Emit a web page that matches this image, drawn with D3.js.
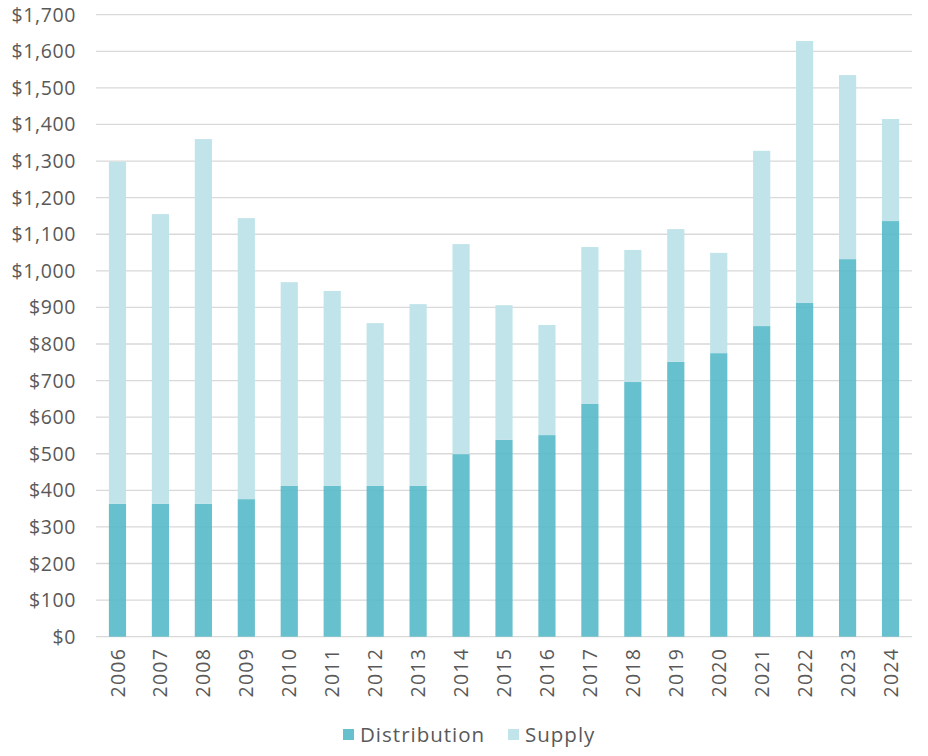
<!DOCTYPE html>
<html>
<head>
<meta charset="utf-8">
<script src="https://cdn.jsdelivr.net/npm/d3@7"></script>
<style>
  body { margin: 0; background: #fff; }
  svg text { font-family: "Open Sans", Lato, sans-serif; fill: #595959; }
</style>
</head>
<body>
<svg id="chart" width="928" height="756"></svg>
<script>
// data
const years = ["2006","2007","2008","2009","2010","2011","2012","2013","2014","2015",
               "2016","2017","2018","2019","2020","2021","2022","2023","2024"];
const distribution = [363, 363, 363, 376, 412, 412, 412, 412, 499, 538,
                      551, 636, 696, 751, 775, 849, 912, 1032, 1136];
const supply = [935, 792, 997, 768, 557, 533, 445, 497, 574, 368,
                301, 429, 361, 363, 274, 479, 716, 503, 279];
const seriesNames = ["Distribution", "Supply"];
const yTicks = d3.range(0, 1701, 100);

const colors = { Distribution: "#55b9c8", Supply: "#c0e4ea" };
const opac = { Distribution: 0.9, Supply: 1 };

const svg = d3.select("#chart");
const m = { left: 96, right: 16, top: 14.7, bottom: 119.3 };
const W = 928, H = 756;

const rows = years.map((y, i) => ({ year: y, Distribution: distribution[i], Supply: supply[i] }));
const stack = d3.stack().keys(seriesNames)(rows);

const x = d3.scaleBand().domain(years).range([m.left, W - m.right]).paddingInner(0.6).paddingOuter(0.3);
const y = d3.scaleLinear().domain([0, 1700]).range([H - m.bottom, m.top]);

// gridlines
svg.append("g").selectAll("line").data(yTicks).join("line")
  .attr("x1", m.left).attr("x2", W - m.right)
  .attr("y1", d => y(d)).attr("y2", d => y(d))
  .attr("stroke", "#d9d9d9").attr("stroke-width", 1.3);

// y labels
const fmt = d3.format("$,");
svg.append("g").selectAll("text").data(yTicks).join("text")
  .attr("x", 76).attr("y", d => y(d)).attr("dy", "0.36em")
  .attr("text-anchor", "end").style("font-size", "19.5px").style("letter-spacing", "0.6px")
  .text(d => fmt(d));

// bars
svg.append("g").selectAll("g").data(stack).join("g")
  .attr("fill", d => colors[d.key]).attr("fill-opacity", d => opac[d.key])
  .selectAll("rect").data(d => d).join("rect")
  .attr("x", d => x(d.data.year)).attr("width", x.bandwidth())
  .attr("y", d => y(d[1])).attr("height", d => y(d[0]) - y(d[1]));

// x labels
svg.append("g").selectAll("text").data(years).join("text")
  .attr("transform", d => `translate(${x(d) + x.bandwidth() / 2},648) rotate(-90)`)
  .attr("dy", "0.36em").attr("text-anchor", "end")
  .style("font-size", "19.5px").style("letter-spacing", "1.2px")
  .text(d => d);

// legend
const lg = svg.append("g");
const lx = [343, 508];
seriesNames.forEach((k, i) => {
  lg.append("rect").attr("x", lx[i]).attr("y", 729).attr("width", 11).attr("height", 11)
    .attr("fill", colors[k]).attr("fill-opacity", opac[k]);
  lg.append("text").attr("x", lx[i] + 17).attr("y", 742)
    .style("font-size", "20.5px").style("letter-spacing", "1px").text(k);
});
</script>
</body>
</html>
